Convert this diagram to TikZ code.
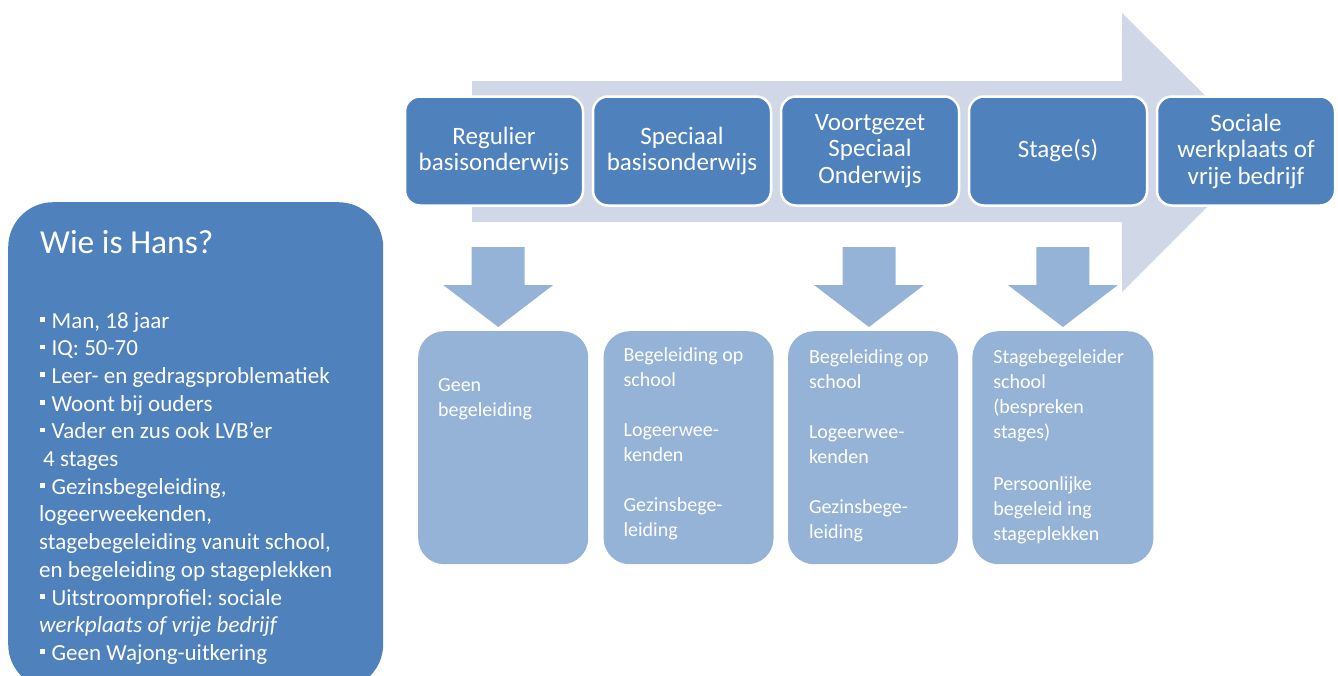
\documentclass[tikz,border=0pt]{standalone}
\usepackage{fontspec}
\setmainfont{Carlito}
\frenchspacing
\usetikzlibrary{positioning,calc}
\definecolor{donker}{HTML}{4F81BD}
\definecolor{licht}{HTML}{95B3D7}
\definecolor{baan}{HTML}{D0D8E8}
\newcommand{\blokje}{\hspace*{1pt}\rule[6.5pt]{4.5pt}{4.5pt}\hspace{7pt}}

\begin{document}
\begin{tikzpicture}[x=1pt, y=-1pt,
	fase/.style = { draw=white, line width=2.5pt, fill=donker,
			rounded corners=15pt, minimum width=178pt,
			minimum height=109pt, text=white, align=center,
			font=\fontsize{25}{26.5}\selectfont },
	hulp/.style = { fill=licht, rounded corners=26pt,
			minimum width=170pt, minimum height=233pt },
	hulptekst/.style = { inner sep=0pt, text=white, align=left,
			font=\fontsize{20}{25}\selectfont },
	pijl/.style = { fill=licht }]

  \useasboundingbox (0,0) rectangle (1338,675);
  \clip (0,0) rectangle (1338,675);

  \fill[baan] (472,81) -- (1122,81) -- (1122,13) -- (1262,152)
	-- (1122,292) -- (1122,222) -- (472,222) -- cycle;

  \node[name=hans, fill=donker, rounded corners=45pt, inner sep=0pt,
	minimum width=375pt, minimum height=487pt, anchor=north west]
	at (8,202) {};
  \node[name=titel, anchor=base west, inner sep=0pt, text=white,
	font=\fontsize{33.5}{40}\selectfont] at (40,253) {Wie is Hans?};
  \node[name=lijst, anchor=north west, inner sep=0pt, text=white,
	align=left, font=\fontsize{23}{27.7}\selectfont] at (39,312)
	{\blokje Man, 18 jaar\\
	 \blokje IQ: 50-70\\
	 \blokje Leer- en gedragsproblematiek\\
	 \blokje Woont bij ouders\\
	 \blokje Vader en zus ook LVB’er\\
	 \hspace*{4pt}4 stages\\
	 \blokje Gezinsbegeleiding,\\
	 logeerweekenden,\\
	 stagebegeleiding vanuit school,\\
	 en begeleiding op stageplekken\\
	 \blokje Uitstroomprofiel: sociale\\
	 \textit{werkplaats of vrije bedrijf}\\
	 \blokje Geen Wajong-uitkering};

  \node[name=regulier, fase] at (494,151) {Regulier\\basisonderwijs};
  \node[name=speciaal, fase, right=7.5pt of regulier]
	{Speciaal\\basisonderwijs};
  \node[name=vso, fase, right=7.5pt of speciaal]
	{Voortgezet\\Speciaal\\Onderwijs};
  \node[name=stage, fase, right=7.5pt of vso] {Stage(s)};
  \node[name=sociaal, fase, right=7.5pt of stage]
	{Sociale\\werkplaats of\\vrije bedrijf};

  \node[name=geen, hulp, anchor=north west] at (418,331) {};
  \node[name=schoolhulp, hulp, right=15pt of geen] {};
  \node[name=vsohulp, hulp, right=14pt of schoolhulp] {};
  \node[name=stagehulp, hulp, minimum width=181pt,
	right=14pt of vsohulp] {};

  \node[name=geentekst, hulptekst, below right=47pt and 20pt of geen.north west]
	{Geen\\begeleiding};
  \node[name=schooltekst, hulptekst,
	below right=16pt and 20pt of schoolhulp.north west]
	{Begeleiding op\\school\\[25pt]Logeerwee-\\kenden\\[25pt]Gezinsbege-\\leiding};
  \node[name=vsotekst, hulptekst,
	below right=18pt and 21pt of vsohulp.north west]
	{Begeleiding op\\school\\[25pt]Logeerwee-\\kenden\\[25pt]Gezinsbege-\\leiding};
  \node[name=stagetekst, hulptekst,
	below right=18pt and 21pt of stagehulp.north west]
	{Stagebegeleider\\school\\(bespreken\\stages)\\[27pt]Persoonlijke\\begeleid ing\\stageplekken};

  \foreach \doel/\dx in {geen/-5, vsohulp/-4, stagehulp/0}
    \fill[pijl] ($(\doel.north)+(\dx,-4)$) -- ++(-55,-42) -- ++(28.5,0)
	-- ++(0,-38) -- ++(53,0) -- ++(0,38) -- ++(28.5,0) -- cycle;
\end{tikzpicture}
\end{document}
